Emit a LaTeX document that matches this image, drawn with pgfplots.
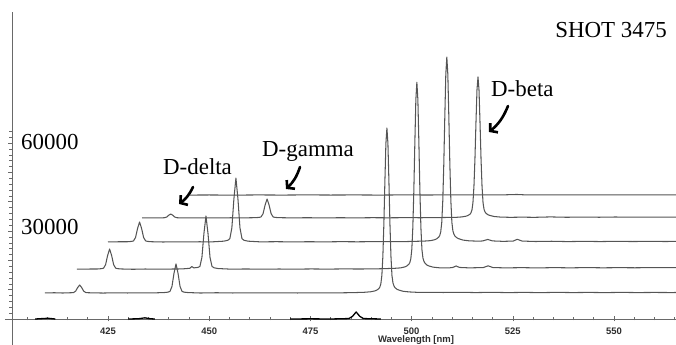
\documentclass[border=0pt]{standalone}
\usepackage{pgfplots}
\pgfplotsset{compat=1.18}
\usepackage{pgfplotstable}
\usepackage{fontspec}
\setmainfont{Liberation Serif}
\newfontfamily\axisfont{Liberation Sans}
\usetikzlibrary{arrows.meta}

\definecolor{tracegray}{RGB}{85,85,85}
\definecolor{axisgray}{RGB}{105,105,105}
\definecolor{tickgray}{RGB}{45,45,45}

% Spectra: wavelength [nm] and counts above each trace's baseline.
% Traces are stacked as a waterfall (shift in wavelength and in counts).
\pgfplotstableread{
wl c
401.6 0
404.0 60
406.0 -30
407.2 30
408.2 70
408.7 138
409.2 597
409.7 1820
410.2 2700
410.7 1820
411.2 597
411.7 138
412.2 70
413.2 30
416.0 -40
419.0 50
422.0 -20
425.0 40
428.0 -10
431.0 120
432.0 260
432.5 505
433.0 2190
433.5 6670
434.0 9900
434.5 6670
435.0 2190
435.5 505
436.0 260
437.0 120
440.0 -30
444.0 60
448.0 -20
452.0 40
456.0 0
460.0 50
464.0 -20
468.0 40
472.0 -10
476.0 60
478.1 113
480.6 225
482.1 394
483.1 676
483.6 957
484.1 1464
484.35 1971
484.6 3097
484.85 5912
485.1 12440
485.35 23530
485.6 37950
485.85 51010
486.1 56300
486.35 51010
486.6 37950
486.85 23530
487.1 12440
487.35 5912
487.6 3378
487.85 2365
488.1 1802
488.6 1239
489.1 957
490.1 563
491.6 338
494.1 169
497.0 200
500.0 150
504.0 220
508.0 120
512.0 200
516.0 110
520.0 180
524.0 100
528.0 190
532.0 120
536.0 170
540.0 110
544.0 180
548.0 120
552.0 160
556.0 130
560.0 150
}\traceA

\pgfplotstableread{
wl c
402.1 0
404.5 50
407.2 70
408.2 180
408.7 350
409.2 1520
409.7 4640
410.2 6890
410.7 4640
411.2 1520
411.7 350
412.2 180
413.2 70
416.0 -30
419.0 60
422.0 0
425.0 50
428.0 80
430.0 300
430.5 900
431.0 450
432.0 600
432.5 925
433.0 4010
433.5 12230
434.0 18150
434.5 12230
435.0 4010
435.5 925
436.0 470
437.0 220
440.0 20
444.0 70
448.0 0
452.0 60
456.0 20
460.0 80
464.0 30
468.0 90
472.0 60
476.0 110
478.1 190
480.6 300
482.1 447
483.1 766
483.6 1085
484.1 1659
484.35 2233
484.6 3509
484.85 6740
485.1 14140
485.35 26700
485.6 43030
485.85 57830
486.1 63800
486.35 57830
486.6 43030
486.85 26700
487.1 14140
487.35 6740
487.6 3828
487.85 2680
488.1 2042
488.6 1404
489.1 1085
490.1 700
491.6 480
494.1 450
495.0 600
495.8 1100
496.6 600
499.0 450
502.5 550
503.7 1150
504.9 550
508.0 450
512.0 520
516.0 440
520.0 530
524.0 460
528.0 540
532.0 470
536.0 520
540.0 480
544.0 540
548.0 500
552.0 560
}\traceB

\pgfplotstableread{
wl c
402.4 0
405.0 60
407.2 68
408.2 180
408.7 347
409.2 1503
409.7 4583
410.2 6800
410.7 4583
411.2 1503
411.7 347
412.2 180
413.2 68
416.0 -20
419.0 50
422.0 10
425.0 60
428.0 20
431.0 260
432.0 570
432.5 1112
433.0 4818
433.5 14690
434.0 21800
434.5 14690
435.0 4818
435.5 1112
436.0 570
437.0 260
440.0 30
444.0 80
448.0 20
452.0 70
456.0 30
460.0 90
464.0 50
468.0 100
472.0 80
476.0 130
478.1 200
480.6 300
482.1 442
483.1 757
483.6 1073
484.1 1641
484.35 2209
484.6 3471
484.85 6680
485.1 14000
485.35 26430
485.6 42580
485.85 57220
486.1 63100
486.35 57220
486.6 42580
486.85 26430
487.1 14000
487.35 6680
487.6 3786
487.85 2650
488.1 2019
488.6 1388
489.1 1073
490.1 631
491.6 379
494.1 250
495.0 350
496.2 850
497.4 350
500.0 200
502.5 300
503.5 900
504.7 300
508.0 150
512.0 230
516.0 120
520.0 200
524.0 130
528.0 210
532.0 140
536.0 200
540.0 150
544.0 190
}\traceC

\pgfplotstableread{
wl c
403.1 0
405.5 40
407.2 13
408.2 35
408.7 68
409.2 296
409.7 903
410.2 1340
410.7 903
411.2 296
411.7 68
412.2 35
413.2 13
416.0 -20
419.0 40
422.0 0
425.0 50
428.0 10
431.0 78
432.0 170
432.5 329
433.0 1428
433.5 4354
434.0 6460
434.5 4354
435.0 1428
435.5 329
436.0 170
437.0 78
440.0 20
444.0 60
448.0 10
452.0 60
456.0 20
460.0 70
464.0 40
468.0 80
472.0 60
476.0 100
478.1 150
480.6 192
482.1 337
483.1 577
483.6 818
484.1 1251
484.35 1684
484.6 2646
484.85 5150
485.1 10730
485.35 20210
485.6 32520
485.85 43680
486.1 48100
486.35 43680
486.6 32520
486.85 20210
487.1 10730
487.35 5150
487.6 2886
487.85 2020
488.1 1539
488.6 1058
489.1 818
490.1 481
491.6 289
494.1 200
497.0 260
500.0 200
504.0 340
508.0 220
512.0 300
516.0 230
520.0 310
524.0 250
528.0 300
532.0 260
536.0 300
}\traceD

\pgfplotstableread{
wl c
407.3 0
412.0 30
418.0 -20
424.0 40
430.0 0
436.0 50
442.0 10
448.0 40
454.0 0
460.0 50
466.0 20
472.0 60
478.0 30
484.0 40
488.0 200
490.0 70
496.0 30
502.0 60
508.0 40
514.0 70
520.0 50
528.0 60
}\traceE

\begin{document}
\begin{tikzpicture}
\begin{axis}[
  scale only axis,
  width=664bp, height=333bp,
  xmin=401.285, xmax=565.316,
  ymin=-8874, ymax=104778,
  axis x line*=middle,
  axis y line*=left,
  axis line style={draw=axisgray, line width=0.8bp},
  xtick={425,450,...,550},
  minor xtick={405,410,...,565},
  ytick={0,10000,...,60000},
  minor ytick={2000,4000,...,64000},
  yticklabels={},
  scaled ticks=false,
  tick align=center,
  major tick length=5bp,
  minor tick length=3bp,
  tick style={draw=axisgray, line width=0.6bp},
  ytick style={xshift=-1.5bp},
  /pgf/number format/assume math mode=true,
  xticklabel style={font=\axisfont\bfseries\fontsize{9.5}{10}\selectfont,
    text=tickgray, anchor=base, yshift=-13bp},
  trace/.style={draw=tracegray, line width=1.05bp, line join=round, no marks},
  base/.style={draw=black, line width=1.3bp, line join=round, no marks},
]
% spectrum lying on the wavelength axis
\addplot[base] coordinates {(407.0,0) (408.5,120) (410.2,250) (412.0,0)};
\addplot[base] coordinates {(430.0,0) (432.5,80) (434.1,400) (435.5,80) (436.6,0)};
\addplot[base] coordinates {(470.0,0) (475.0,60) (480.0,0) (484.5,150) (485.4,900)
  (486.3,2400) (487.2,900) (488.1,150) (492.4,0)};

% stacked spectra
\addplot[trace] table[x expr=\thisrow{wl}+7.8,  y expr=\thisrow{c}+8900]  {\traceA};
\addplot[trace] table[x expr=\thisrow{wl}+15.2, y expr=\thisrow{c}+17000] {\traceB};
\addplot[trace] table[x expr=\thisrow{wl}+22.6, y expr=\thisrow{c}+26300] {\traceC};
\addplot[trace] table[x expr=\thisrow{wl}+30.3, y expr=\thisrow{c}+34500] {\traceD};
\addplot[trace] table[x expr=\thisrow{wl}+38.0, y expr=\thisrow{c}+42300] {\traceE};

\coordinate (imgTL) at (axis cs:398.32,108874);
\coordinate (imgBR) at (axis cs:565.316,-8874);
\end{axis}

\pgfresetboundingbox
\path[use as bounding box] (imgTL) rectangle (imgBR);

% labels and hand-drawn arrows, positioned in points from the top-left corner
\begin{scope}[shift={(imgTL)}, x=1bp, y=-1bp]
  \draw[axisgray, line width=0.8bp] (5,319) -- (12,319);
  \node[anchor=base, inner sep=0, text=tickgray,
    font=\axisfont\bfseries\fontsize{9.5}{10}\selectfont] at (416,343) {Wavelength [nm]};
  \tikzset{lbl/.style={inner sep=0, font=\fontsize{23}{23}\selectfont}}
  \node[lbl, anchor=base west] at (21,150) {60000};
  \node[lbl, anchor=base west] at (21,235) {30000};
  \node[lbl, anchor=base east] at (667,38) {SHOT 3475};
  \node[lbl, anchor=base west] at (163,175) {D-delta};
  \node[lbl, anchor=base west] at (262,157) {D-gamma};
  \node[lbl, anchor=base west] at (491,97) {D-beta};
  \tikzset{hand/.style={line width=2.6bp, line cap=round, line join=round,
    -{Straight Barb[length=5bp, width=12bp]}}}
  \draw[hand] (193,187) to[bend left=14] (179,204);
  \draw[hand] (300,167) to[bend left=14] (286,189);
  \draw[hand] (508,106) to[bend left=14] (489,132);
\end{scope}
\end{tikzpicture}
\end{document}
